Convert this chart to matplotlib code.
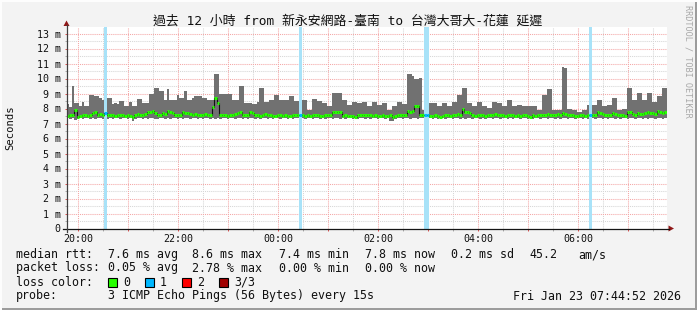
import numpy as np
import matplotlib
matplotlib.use('Agg')
import matplotlib.pyplot as plt
from matplotlib.patches import Rectangle, Polygon
from matplotlib.lines import Line2D

W, H = 697, 310
MONO = ['DejaVu Sans Mono', 'Noto Sans CJK TC']

# ---------------- data ----------------
title = "過去 12 小時 from 新永安網路-臺南 to 台灣大哥大-花蓮 延遲"
start_hour = -0.235          # hours relative to 20:00
step_hours = 0.05            # 3-minute consolidation steps
hour_labels = ["20:00", "21:00", "22:00", "23:00", "00:00", "01:00",
               "02:00", "03:00", "04:00", "05:00", "06:00", "07:00"]

# one row = 20 steps = 1 hour (ms)
smoke_hi = [
    8.3, 8.1, 9.5, 8.4, 8.4, 8.15, 8.45, 8.15, 8.15, 8.9, 8.9, 8.85, 8.85, 8.7, 8.6, 8.6, 8.7, 8.7, 8.3, 8.35,
    8.3, 8.5, 8.5, 8.15, 8.15, 8.4, 8.15, 8.15, 8.65, 8.65, 8.4, 8.35, 8.35, 9.0, 9.0, 9.4, 9.4, 9.15, 9.15, 8.6,
    9.3, 8.6, 8.6, 8.6, 8.9, 8.7, 8.7, 9.2, 8.6, 8.6, 8.7, 8.85, 8.85, 8.85, 8.7, 8.7, 8.6, 8.6, 8.6, 10.3,
    10.3, 9.0, 9.0, 9.0, 9.0, 9.0, 8.6, 8.6, 8.6, 9.5, 9.5, 8.35, 8.35, 8.35, 8.3, 8.3, 8.4, 9.4, 9.4, 8.45,
    8.45, 8.6, 8.6, 8.9, 8.9, 8.6, 8.6, 8.55, 8.55, 8.8, 8.8, 8.5, 8.5, 8.5, 8.6, 8.6, 7.9, 7.9, 8.65, 8.65,
    8.5, 8.5, 8.35, 8.35, 8.15, 8.15, 9.05, 9.05, 9.05, 9.05, 8.6, 8.6, 8.25, 8.25, 8.45, 8.45, 8.35, 8.35, 8.45, 8.45,
    8.15, 8.15, 8.45, 8.45, 8.25, 8.25, 8.35, 8.35, 7.9, 7.9, 8.15, 8.15, 8.45, 8.45, 8.3, 8.3, 10.3, 10.3, 10.2, 10.0,
    10.0, 10.05, 7.9, 7.9, 7.9, 8.35, 8.35, 8.35, 8.15, 8.15, 8.35, 8.35, 8.15, 8.15, 8.45, 8.45, 8.9, 8.9, 9.35, 9.35,
    8.35, 8.35, 8.15, 8.15, 8.45, 8.45, 8.15, 8.15, 8.05, 8.05, 8.45, 8.45, 8.35, 8.35, 8.15, 8.15, 8.6, 8.6, 8.15, 8.15,
    8.25, 8.25, 8.15, 8.15, 8.2, 8.2, 8.15, 8.15, 7.9, 7.9, 8.9, 8.9, 9.3, 9.3, 7.9, 7.9, 7.9, 7.9, 10.8, 10.7,
    7.95, 7.95, 7.9, 7.9, 7.8, 7.8, 7.9, 7.9, 8.25, 8.25, 8.25, 8.25, 8.6, 8.6, 8.15, 8.15, 8.25, 8.25, 8.7, 8.7,
    7.9, 7.9, 8.0, 8.0, 9.4, 9.4, 8.6, 8.6, 9.05, 9.05, 8.6, 8.6, 9.05, 9.05, 8.45, 8.45, 8.8, 8.8, 9.35, 9.35,
]

smoke_lo = [
    7.35, 7.3, 7.35, 7.25, 7.3, 7.35, 7.3, 7.35, 7.35, 7.3, 7.35, 7.3, 7.35, 7.35, 7.3, 7.35, 7.3, 7.35, 7.3, 7.35,
    7.35, 7.3, 7.35, 7.35, 7.3, 7.35, 7.2, 7.3, 7.35, 7.35, 7.3, 7.35, 7.3, 7.35, 7.35, 7.3, 7.3, 7.35, 7.35, 7.3,
    7.35, 7.3, 7.35, 7.35, 7.3, 7.35, 7.3, 7.35, 7.35, 7.3, 7.35, 7.35, 7.3, 7.35, 7.3, 7.35, 7.35, 7.3, 7.35, 7.3,
    7.35, 7.3, 7.35, 7.35, 7.3, 7.35, 7.35, 7.3, 7.35, 7.35, 7.3, 7.35, 7.3, 7.35, 7.35, 7.3, 7.35, 7.3, 7.35, 7.35,
    7.3, 7.35, 7.3, 7.35, 7.35, 7.3, 7.35, 7.35, 7.3, 7.35, 7.3, 7.35, 7.35, 7.3, 7.35, 7.3, 7.35, 7.35, 7.3, 7.35,
    7.35, 7.3, 7.35, 7.3, 7.35, 7.35, 7.3, 7.35, 7.35, 7.3, 7.35, 7.3, 7.35, 7.35, 7.3, 7.35, 7.3, 7.35, 7.35, 7.3,
    7.35, 7.3, 7.35, 7.35, 7.3, 7.35, 7.35, 7.3, 7.35, 7.2, 7.15, 7.3, 7.35, 7.35, 7.3, 7.35, 7.35, 7.3, 7.35, 7.35,
    7.3, 7.35, 7.35, 7.3, 7.35, 7.35, 7.3, 7.35, 7.3, 7.35, 7.35, 7.3, 7.35, 7.35, 7.3, 7.35, 7.35, 7.3, 7.35, 7.3,
    7.35, 7.35, 7.3, 7.35, 7.35, 7.3, 7.35, 7.3, 7.35, 7.35, 7.3, 7.35, 7.35, 7.3, 7.35, 7.35, 7.3, 7.35, 7.3, 7.35,
    7.35, 7.3, 7.35, 7.35, 7.3, 7.35, 7.3, 7.35, 7.35, 7.3, 7.35, 7.35, 7.3, 7.35, 7.35, 7.3, 7.35, 7.3, 7.35, 7.35,
    7.3, 7.35, 7.35, 7.3, 7.35, 7.35, 7.3, 7.35, 7.3, 7.35, 7.35, 7.3, 7.35, 7.35, 7.3, 7.35, 7.3, 7.35, 7.35, 7.3,
    7.35, 7.3, 7.35, 7.35, 7.3, 7.35, 7.35, 7.3, 7.35, 7.35, 7.3, 7.35, 7.3, 7.35, 7.35, 7.3, 7.35, 7.35, 7.3, 7.35,
]

median = [
    7.5, 7.55, 7.6, 7.9, 7.45, 7.5, 7.6, 7.55, 7.5, 7.55, 7.7, 7.75, 7.6, 7.65, 7.6, 7.7, 7.55, 7.6, 7.6, 7.5,
    7.55, 7.6, 7.55, 7.5, 7.55, 7.5, 7.45, 7.55, 7.65, 7.6, 7.55, 7.65, 7.75, 7.8, 7.85, 7.7, 7.55, 7.6, 7.7, 7.65,
    7.85, 7.8, 7.7, 7.6, 7.55, 7.6, 7.75, 7.7, 7.7, 7.65, 7.6, 7.65, 7.6, 7.55, 7.6, 7.65, 7.55, 7.6, 8.1, 8.7,
    8.4, 7.55, 7.6, 7.55, 7.5, 7.55, 7.6, 7.65, 7.7, 7.75, 7.6, 7.55, 7.55, 7.75, 7.7, 7.6, 7.55, 7.5, 7.55, 7.65,
    7.6, 7.55, 7.5, 7.5, 7.6, 7.55, 7.5, 7.55, 7.5, 7.5, 7.55, 7.6, 7.55, 7.6, 7.55, 7.5, 7.55, 7.5, 7.6, 7.55,
    7.55, 7.5, 7.5, 7.55, 7.55, 7.6, 7.8, 7.8, 7.75, 7.8, 7.5, 7.55, 7.5, 7.5, 7.5, 7.45, 7.55, 7.55, 7.6, 7.55,
    7.55, 7.6, 7.5, 7.55, 7.5, 7.5, 7.55, 7.5, 7.5, 7.55, 7.45, 7.5, 7.6, 7.55, 7.55, 7.6, 7.85, 7.8, 7.85, 8.15,
    8.2, 7.6, 7.6, 7.55, 7.6, 7.5, 7.5, 7.55, 7.5, 7.45, 7.5, 7.55, 7.55, 7.5, 7.55, 7.6, 7.65, 7.6, 8.0, 7.8,
    7.75, 7.7, 7.55, 7.5, 7.55, 7.6, 7.55, 7.5, 7.6, 7.55, 7.6, 7.65, 7.55, 7.6, 7.55, 7.5, 7.6, 7.55, 7.55, 7.5,
    7.55, 7.5, 7.6, 7.55, 7.5, 7.45, 7.55, 7.5, 7.55, 7.6, 7.6, 7.55, 7.65, 7.6, 7.6, 7.55, 7.65, 7.6, 7.7, 7.65,
    7.55, 7.6, 7.55, 7.5, 7.5, 7.55, 7.55, 7.5, 7.6, 7.6, 7.55, 7.6, 7.75, 7.7, 7.65, 7.6, 7.6, 7.55, 7.7, 7.65,
    7.55, 7.6, 7.55, 7.5, 7.8, 7.75, 7.65, 7.6, 7.7, 7.65, 7.65, 7.7, 7.75, 7.7, 7.7, 7.65, 7.85, 7.8, 7.7, 7.75,
]

loss = [0] * len(median)
for k in (15, 93, 143, 144, 209):
    loss[k] = 1

loss_colors = ['#26ff00', '#00b8ff', '#ff0000', '#a00000']
loss_bg = ['none', '#a8e2f8', '#ffb0b0', '#e0a0a0']
loss_labels = ["0", "1", "2", "3/3"]

stats_rtt = ["7.6 ms avg", "8.6 ms max", "7.4 ms min", "7.8 ms now", "0.2 ms sd", "45.2", "am/s"]
stats_loss = ["0.05 % avg", "2.78 % max", "0.00 % min", "0.00 % now"]
probe_text = "3 ICMP Echo Pings (56 Bytes) every 15s"
date_text = "Fri Jan 23 07:44:52 2026"

# ---------------- figure ----------------
fig = plt.figure(figsize=(W / 100, H / 100), dpi=100, facecolor='#f3f3f3')

def fx(x):
    return x / W

def fy(y):
    return 1 - y / H

L, R, T, B = 66.5, 666.5, 27, 228.5
ax = fig.add_axes([fx(L), fy(B), (R - L) / W, (B - T) / H])
ax.set_facecolor('white')
n = len(median)
edges = start_hour + step_hours * np.arange(n + 1)
ymax = (B - T) / 15.0

# grid
grid_minor = '#d6d6d6'
grid_major = '#f4a6a6'
dot = (0, (1, 1))
hours_pos = np.arange(0, 12)
half_pos = np.arange(0.5, 11.6, 1.0)
for hv in hours_pos:
    ax.axvline(hv, color=grid_major, lw=0.75, ls=dot, zorder=0.6)
for hv in half_pos:
    ax.axvline(hv, color=grid_minor, lw=0.75, ls=dot, zorder=0.5)
for v in np.arange(0.5, 13.0, 1.0):
    ax.axhline(v, color=grid_minor, lw=0.75, ls=dot, zorder=0.5)
for v in range(1, 14):
    ax.axhline(v, color=grid_major, lw=0.75, ls=dot, zorder=0.6)

lo = np.array(smoke_lo)
hi = np.array(smoke_hi)
med = np.array(median)
ls_ = np.array(loss)

# smoke
ax.bar(edges[:-1], hi - lo, bottom=lo, width=step_hours, align='edge',
       color='#717171', linewidth=0, zorder=2)

# loss columns
for i in range(n):
    if ls_[i] > 0:
        ax.axvspan(edges[i], edges[i + 1], color=loss_bg[ls_[i]], lw=0, zorder=3)

# median black line + coloured segments
ax.stairs(med, edges, color='#101010', lw=0.8, zorder=4, baseline=None)
seg_cols = [loss_colors[k] for k in ls_]
ax.hlines(med, edges[:-1], edges[1:], colors=seg_cols, lw=2.2, zorder=5)

# ticks
for s in ax.spines.values():
    s.set_visible(False)
ax.set_xticks(hours_pos)
ax.set_xticklabels([h if i % 2 == 0 else '' for i, h in enumerate(hour_labels)],
                   family=MONO, fontsize=7.2)
ax.set_xticks(half_pos, minor=True)
ax.set_yticks(range(14))
ax.set_yticklabels(['0'] + [f'{v} m' for v in range(1, 14)], family=MONO, fontsize=7.2)
ax.set_yticks(np.arange(0.5, 13.0, 1.0), minor=True)
ax.tick_params(axis='both', which='major', length=1.5, width=0.7, color='#e05050',
               pad=2.8, labelcolor='#101010')
ax.tick_params(axis='both', which='minor', length=1.5, width=0.7, color='#aaaaaa')
ax.set_xlim(edges[0], edges[-1])
ax.set_ylim(0, ymax)

# axes lines and arrows (pixel coordinates)
fig.add_artist(Line2D([fx(63), fx(669)], [fy(B), fy(B)], color='#151515', lw=0.9))
fig.add_artist(Line2D([fx(L), fx(L)], [fy(232), fy(25)], color='#404040', lw=0.9))
fig.add_artist(Polygon([[fx(668.5), fy(B - 3)], [fx(674), fy(B)], [fx(668.5), fy(B + 3)]],
                       closed=True, color='#901818', lw=0))
fig.add_artist(Polygon([[fx(L - 3), fy(26)], [fx(L), fy(20.5)], [fx(L + 3), fy(26)]],
                       closed=True, color='#901818', lw=0))

# title and labels
fig.text(fx(348), fy(21.5), title, family=MONO, fontsize=9.3, ha='center', va='center',
         color='#101010')
fig.text(fx(10), fy(128), 'Seconds', family=MONO, fontsize=7.6, rotation=90,
         ha='center', va='center', color='#101010')
fig.text(fx(688), fy(5), 'RRDTOOL / TOBI OETIKER', family=MONO, fontsize=6.1,
         rotation=270, ha='center', va='top', color='#a8a8a8')

# legend lines
fs = 8.4
tc = '#101010'
y1, y2, y3, y4 = 254.5, 268, 282, 296
fig.text(fx(15.6), fy(y1), 'median rtt:', family=MONO, fontsize=fs, va='center', color=tc)
for xp, s in zip([107.6, 192.4, 279, 365, 451, 529, 578.7], stats_rtt):
    fig.text(fx(xp), fy(y1), s, family=MONO, fontsize=fs, va='center', color=tc)
fig.text(fx(15.6), fy(y2), 'packet loss:', family=MONO, fontsize=fs, va='center', color=tc)
for xp, s in zip([107.6, 192.4, 279, 365], stats_loss):
    fig.text(fx(xp), fy(y2), s, family=MONO, fontsize=fs, va='center', color=tc)
fig.text(fx(15.6), fy(y3), 'loss color:', family=MONO, fontsize=fs, va='center', color=tc)
for xb, c, lab in zip([108, 145, 182, 219], loss_colors, loss_labels):
    fig.add_artist(Rectangle((fx(xb), fy(y3 + 4.5)), 8.5 / W, 9 / H, facecolor=c,
                             edgecolor='#000000', lw=0.8))
    fig.text(fx(xb + 15), fy(y3), lab, family=MONO, fontsize=fs, va='center', color=tc)
fig.text(fx(15.6), fy(y4), 'probe:', family=MONO, fontsize=fs, va='center', color=tc)
fig.text(fx(107.6), fy(y4), probe_text, family=MONO, fontsize=fs, va='center', color=tc)
fig.text(fx(681), fy(y4), date_text, family=MONO, fontsize=fs, va='center', ha='right', color=tc)

# 3D frame of the canvas
fig.add_artist(Rectangle((fx(694.5), 0), 2.5 / W, 1, facecolor='#9c9c9c', lw=0))
fig.add_artist(Rectangle((0, 0), 1, 2.5 / H, facecolor='#9c9c9c', lw=0))
fig.add_artist(Rectangle((0, 0), 2 / W, 1, facecolor='#fdfdfd', lw=0))
fig.add_artist(Rectangle((0, fy(2)), 1, 2 / H, facecolor='#fdfdfd', lw=0))

fig.savefig('out.png', dpi=100, facecolor=fig.get_facecolor())
